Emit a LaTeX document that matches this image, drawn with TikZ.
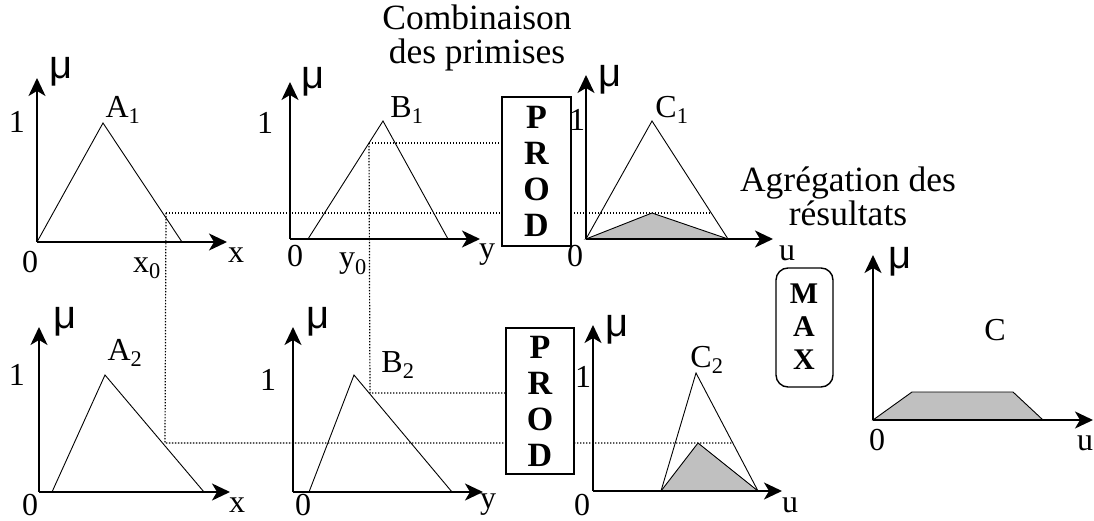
\documentclass[tikz,border=0pt]{standalone}
\usepackage{fontspec}
\setmainfont{Liberation Serif}
\newfontfamily\mufont{Liberation Sans}
\usetikzlibrary{arrows.meta}
\definecolor{shadegray}{RGB}{192,192,192}
\begin{document}
\begin{tikzpicture}[x=1pt,y=-1pt,
  axis/.style={line width=1.8pt,-{Stealth[length=18pt,width=17pt,inset=5pt]}},
  curve/.style={line width=0.9pt,line join=miter},
  guide/.style={line width=1.2pt,dash pattern=on 1.3pt off 1.7pt},
  lbl/.style={inner sep=0pt,font=\fontsize{32}{34}\selectfont},
  mulbl/.style={inner sep=0pt,font=\fontsize{40}{40}\mufont},
  title/.style={inner sep=0pt,align=center,font=\fontsize{35.5}{34}\selectfont},
  opbox/.style={draw,line width=1.4pt,fill=white,inner sep=0pt,align=center,font=\fontsize{34}{36}\selectfont\bfseries},
  oplet/.style={inner sep=0pt,font=\fontsize{30}{30}\selectfont\bfseries},
  shade/.style={fill=shadegray,draw=black,line width=0.9pt}]
\useasboundingbox (0,0) rectangle (1094,521);

% ---------- guide (dotted) lines ----------
\coordinate (a1cut) at (166,213);
\coordinate (a2cut) at (165,443);
\coordinate (c1cut) at (711,213);
\coordinate (c2cut) at (733,443);
\coordinate (b1cut) at (369,143);
\coordinate (b2cut) at (370,393);
\coordinate (p1in) at (502,143);
\coordinate (p2in) at (506,393);
\draw[guide] (a1cut) -- (c1cut);
\draw[guide] (a1cut) -- (a2cut) -- (c2cut);
\draw[guide] (b1cut) -- (p1in);
\draw[guide] (b1cut) -- (b2cut) -- (p2in);

% ---------- A1 ----------
\coordinate (oA1) at (37,242);
\coordinate (yA1) at (37,78);
\coordinate (xA1) at (227,242);
\draw[curve] (37,242) -- (103,123) -- (182,242);
\draw[axis] (oA1) -- (yA1);
\draw[axis] (oA1) -- (xA1);
\node[mulbl] (muA1) at (61,72) {μ};
\node[lbl] (oneA1) at (17,122) {1};
\node[lbl] (labA1) at (123,110) {A\textsubscript{1}};
\node[lbl] (zeroA1) at (30,262) {0};
\node[lbl] (xlA1) at (236,255) {x};
\node[lbl] (x0) at (147,268) {x\textsubscript{0}};

% ---------- B1 ----------
\coordinate (oB1) at (290,239);
\coordinate (yB1) at (290,82);
\coordinate (xB1) at (480,239);
\draw[curve] (308,239) -- (383,121) -- (448,239);
\draw[axis] (oB1) -- (yB1);
\draw[axis] (oB1) -- (xB1);
\node[mulbl] (muB1) at (313,82) {μ};
\node[lbl] (oneB1) at (265,123) {1};
\node[lbl] (labB1) at (407,110) {B\textsubscript{1}};
\node[lbl] (zeroB1) at (295,256) {0};
\node[lbl] (ylB1) at (487,255) {y};
\node[lbl] (y0) at (353,264) {y\textsubscript{0}};

% ---------- PROD 1 ----------
\node[opbox,minimum width=69pt,minimum height=149pt] (prod1) at (536.5,171.5) {P\\R\\O\\D};
\node[title] (comb) at (477,38) {Combinaison\\des primises};

% ---------- C1 ----------
\coordinate (oC1) at (586,239);
\coordinate (yC1) at (586,75);
\coordinate (xC1) at (773,239);
\draw[shade] (586,239) -- (652,213) -- (728,239) -- cycle;
\draw[curve] (586,239) -- (652,121) -- (728,239);
\draw[axis] (oC1) -- (yC1);
\draw[axis] (oC1) -- (xC1);
\node[mulbl] (muC1) at (610,80) {μ};
\node[lbl] (oneC1) at (577,120) {1};
\node[lbl] (labC1) at (672,110) {C\textsubscript{1}};
\node[lbl] (zeroC1) at (575,256) {0};
\node[lbl] (ulC1) at (787,253) {u};

% ---------- aggregation ----------
\node[title] (agg) at (848,196) {Agrégation des\\résultats};
\node[opbox,rounded corners=12pt,minimum width=57pt,minimum height=119pt] (max) at (804.5,327.5) {};
\node[oplet] (maxM) at (804,294) {M};
\node[oplet] (maxA) at (804,327) {A};
\node[oplet] (maxX) at (804,360) {X};

% ---------- C ----------
\coordinate (oC) at (873,420);
\coordinate (yC) at (873,255);
\coordinate (xC) at (1093,420);
\draw[shade] (873,420) -- (912,392) -- (1013,392) -- (1043,420) -- cycle;
\draw[axis] (oC) -- (yC);
\draw[axis] (oC) -- (xC);
\node[mulbl] (muC) at (900,262) {μ};
\node[lbl] (labC) at (995,330) {C};
\node[lbl] (zeroC) at (877,440) {0};
\node[lbl] (ulC) at (1085,443) {u};

% ---------- A2 ----------
\coordinate (oA2) at (39,492);
\coordinate (yA2) at (39,327);
\coordinate (xA2) at (230,492);
\draw[curve] (52,492) -- (105,375) -- (204,492);
\draw[axis] (oA2) -- (yA2);
\draw[axis] (oA2) -- (xA2);
\node[mulbl] (muA2) at (65,322) {μ};
\node[lbl] (oneA2) at (17,375) {1};
\node[lbl] (labA2) at (125,353) {A\textsubscript{2}};
\node[lbl] (zeroA2) at (30,505) {0};
\node[lbl] (xlA2) at (237,505) {x};

% ---------- B2 ----------
\coordinate (oB2) at (293,492);
\coordinate (yB2) at (293,327);
\coordinate (xB2) at (483,492);
\draw[curve] (309,492) -- (354,375) -- (452,492);
\draw[axis] (oB2) -- (yB2);
\draw[axis] (oB2) -- (xB2);
\node[mulbl] (muB2) at (318,322) {μ};
\node[lbl] (oneB2) at (268,380) {1};
\node[lbl] (labB2) at (398,365) {B\textsubscript{2}};
\node[lbl] (zeroB2) at (303,505) {0};
\node[lbl] (ylB2) at (488,505) {y};

% ---------- PROD 2 ----------
\node[opbox,minimum width=68pt,minimum height=146pt] (prod2) at (540,401) {P\\R\\O\\D};

% ---------- C2 ----------
\coordinate (oC2) at (593,491);
\coordinate (yC2) at (593,325);
\coordinate (xC2) at (782,491);
\draw[shade] (661,491) -- (698,443) -- (758,491) -- cycle;
\draw[curve] (661,491) -- (696,373) -- (758,491);
\draw[axis] (oC2) -- (yC2);
\draw[axis] (oC2) -- (xC2);
\node[mulbl] (muC2) at (617,330) {μ};
\node[lbl] (oneC2) at (583,377) {1};
\node[lbl] (labC2) at (707,360) {C\textsubscript{2}};
\node[lbl] (zeroC2) at (582,505) {0};
\node[lbl] (ulC2) at (790,505) {u};
\end{tikzpicture}
\end{document}
